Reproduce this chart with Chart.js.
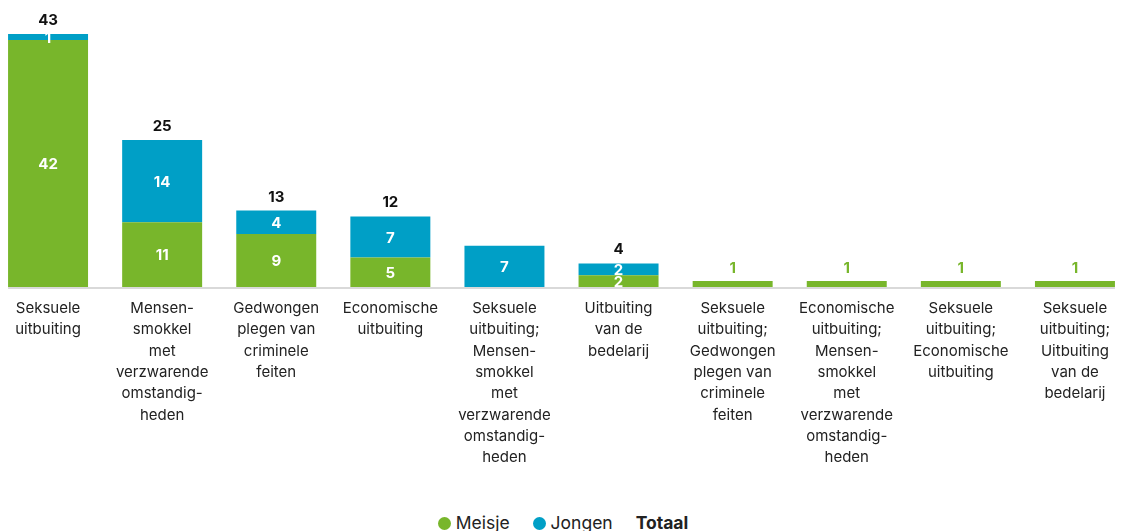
<!DOCTYPE html>
<html lang="nl">
<head>
<meta charset="utf-8">
<title>Slachtoffers naar vorm van uitbuiting</title>
<script src="https://cdn.jsdelivr.net/npm/chart.js@4"></script>
<style>
  html, body { margin: 0; padding: 0; background: #fff; overflow: hidden; }
  body { width: 1126px; height: 531px; position: relative; font-family: Inter, "Noto Sans", sans-serif; }
  #wrap { position: absolute; left: -9px; top: 0; width: 1141px; height: 480px; }
  #legend { position: absolute; left: 0; right: 0; top: 510px; text-align: center; font-size: 17.5px; color: #222; }
  #legend span { display: inline-block; margin: 0 9px; vertical-align: middle; }
  #legend i { display: inline-block; width: 13px; height: 13px; border-radius: 50%; margin-right: 5px; vertical-align: -1px; }
  #legend b { font-weight: 700; }
</style>
</head>
<body>
<div id="wrap"><canvas id="chart"></canvas></div>
<div id="legend">
  <span><i style="background:#78b62b"></i>Meisje</span>
  <span><i style="background:#009fc6"></i>Jongen</span>
  <span><b>Totaal</b></span>
</div>
<script>
// ── Data ─────────────────────────────────────────────────
const categories = [
  ["Seksuele", "uitbuiting"],
  ["Mensen-", "smokkel", "met", "verzwarende", "omstandig-", "heden"],
  ["Gedwongen", "plegen van", "criminele", "feiten"],
  ["Economische", "uitbuiting"],
  ["Seksuele", "uitbuiting;", "Mensen-", "smokkel", "met", "verzwarende", "omstandig-", "heden"],
  ["Uitbuiting", "van de", "bedelarij"],
  ["Seksuele", "uitbuiting;", "Gedwongen", "plegen van", "criminele", "feiten"],
  ["Economische", "uitbuiting;", "Mensen-", "smokkel", "met", "verzwarende", "omstandig-", "heden"],
  ["Seksuele", "uitbuiting;", "Economische", "uitbuiting"],
  ["Seksuele", "uitbuiting;", "Uitbuiting", "van de", "bedelarij"],
];
const meisje = [42, 11, 9, 5, 0, 2, 1, 1, 1, 1];
const jongen = [1, 14, 4, 7, 7, 2, 0, 0, 0, 0];

const GREEN = "#78b62b";
const BLUE  = "#009fc6";
const FONT  = 'Inter, "Noto Sans", sans-serif';

// ── Value labels + totals ────────────────────────────────
const valueLabels = {
  id: "valueLabels",
  afterDatasetsDraw(chart) {
    const { ctx } = chart;
    const metas = chart.data.datasets.map((_, i) => chart.getDatasetMeta(i));
    ctx.save();
    ctx.textAlign = "center";
    ctx.font = `700 15px ${FONT}`;
    categories.forEach((_, i) => {
      const parts = metas.map((m, d) => ({ el: m.data[i], v: chart.data.datasets[d].data[i], color: chart.data.datasets[d].backgroundColor }))
        .filter(p => p.v > 0);
      const topY = Math.min(...parts.map(p => p.el.y));
      const x = parts[0].el.x;
      if (parts.length === 1 && parts[0].el.base - parts[0].el.y < 16) {
        // too thin for an inside label: put it above in the series colour
        ctx.fillStyle = parts[0].color;
        ctx.textBaseline = "bottom";
        ctx.fillText(parts[0].v, x, topY - 5);
        return;
      }
      ctx.fillStyle = "#fff";
      ctx.textBaseline = "middle";
      for (const p of parts) ctx.fillText(p.v, x, (p.el.y + p.el.base) / 2 + 1);
      if (parts.length > 1) {
        const total = parts.reduce((s, p) => s + p.v, 0);
        ctx.fillStyle = "#111";
        ctx.textBaseline = "bottom";
        ctx.fillText(total, x, topY - 6);
      }
    });
    ctx.restore();
  },
};

// ── Baseline under the bars ──────────────────────────────
const baseline = {
  id: "baseline",
  afterDatasetsDraw(chart) {
    const { ctx, chartArea } = chart;
    const bars = chart.getDatasetMeta(0).data;
    const first = bars[0], last = bars[bars.length - 1];
    ctx.save();
    ctx.strokeStyle = "#d9d9d9";
    ctx.lineWidth = 2;
    ctx.beginPath();
    ctx.moveTo(first.x - first.width / 2, chartArea.bottom + 1);
    ctx.lineTo(last.x + last.width / 2, chartArea.bottom + 1);
    ctx.stroke();
    ctx.restore();
  },
};

// ── Chart ────────────────────────────────────────────────
new Chart(document.getElementById("chart"), {
  type: "bar",
  data: {
    labels: categories,
    datasets: [
      { label: "Meisje", data: meisje, backgroundColor: GREEN },
      { label: "Jongen", data: jongen, backgroundColor: BLUE },
    ],
  },
  options: {
    responsive: true,
    maintainAspectRatio: false,
    animation: false,
    layout: { padding: 0 },
    datasets: { bar: { categoryPercentage: 1, barPercentage: 0.701, borderWidth: 0 } },
    plugins: { legend: { display: false }, tooltip: { enabled: false } },
    scales: {
      x: {
        stacked: true,
        grid: { display: false },
        border: { display: false },
        afterFit: s => { s.height = 193; },
        ticks: {
          padding: 3,
          color: "#222",
          maxRotation: 0,
          autoSkip: false,
          font: { family: FONT, size: 15, lineHeight: 1.42 },
        },
      },
      y: {
        stacked: true,
        display: false,
        min: 0,
        max: 48.8,
      },
    },
  },
  plugins: [valueLabels, baseline],
});
</script>
</body>
</html>
